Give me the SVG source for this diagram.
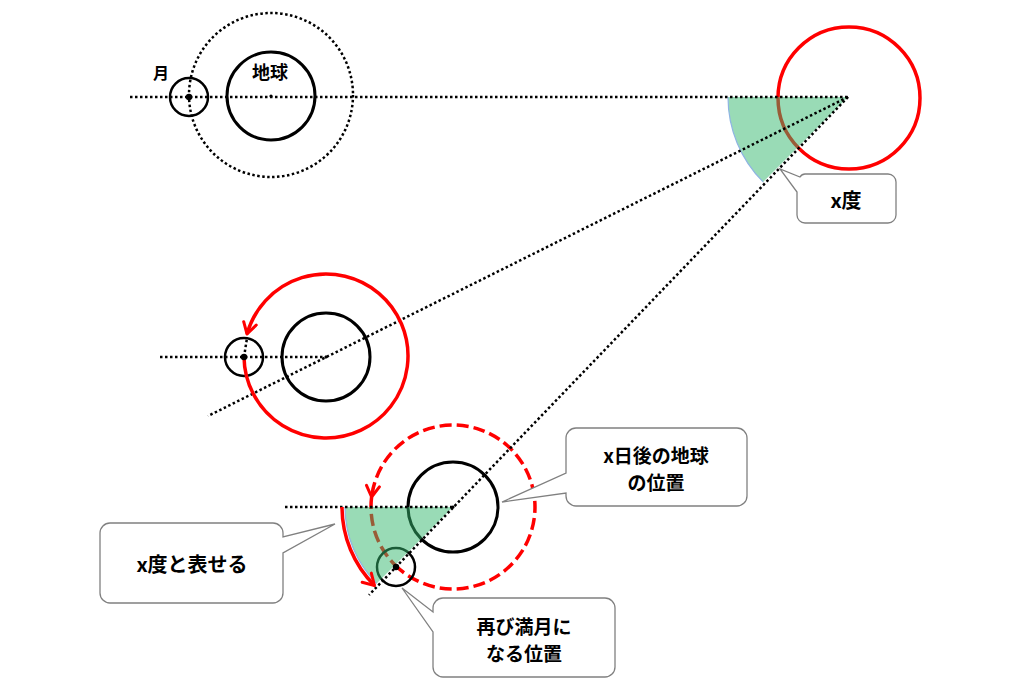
<svg xmlns="http://www.w3.org/2000/svg" width="1024" height="691" viewBox="0 0 1024 691">
<style>
.dot{fill:none;stroke:#000;stroke-width:2.5;stroke-dasharray:2.5 2.5}
.blk{fill:none;stroke:#000;stroke-width:3}
.moon{fill:none;stroke:#000;stroke-width:2.5}
.red{fill:none;stroke:#ff0000;stroke-width:3.5}
.dash{fill:none;stroke:#ff0000;stroke-width:3.5;stroke-dasharray:12 5}
.sector{fill:#33b86e;fill-opacity:0.5;stroke:none}
.rim{fill:none;stroke:#8eb4e3;stroke-width:1.2}
.box{fill:#fff;stroke:#808080;stroke-width:1.3}
.t{font-family:"Noto Sans CJK JP","Noto Sans",sans-serif;font-weight:bold;fill:#000;text-anchor:middle;dominant-baseline:central}
</style>
<defs>
<marker id="arr" viewBox="0 0 16 16" refX="13" refY="8" markerWidth="16" markerHeight="16" markerUnits="userSpaceOnUse" orient="auto">
<path d="M2 1.5 L13 8 L2 14.5" fill="none" stroke="#ff0000" stroke-width="3" stroke-linecap="round" stroke-linejoin="round"/>
</marker>
</defs>
<rect width="1024" height="691" fill="#fff"/>

<g id="sun-circle"><circle class="red" cx="849" cy="98" r="71"/></g>

<g id="orbit-x-days">
<path class="dash" d="M395 565 A82 82 0 1 0 371.6 497" marker-end="url(#arr)"/>
<path class="dash" d="M371.6 497 A82 82 0 0 0 395 565"/>
</g>

<g id="earth-1"><circle class="dot" cx="271" cy="95" r="82"/><circle class="blk" cx="271" cy="96" r="44"/><circle cx="271" cy="96" r="1.6"/><text class="t" x="270" y="71" font-size="18">地球</text></g>
<g id="moon-1"><circle class="moon" cx="189" cy="97" r="19"/><circle cx="189" cy="97" r="3.2"/><text class="t" x="161" y="72" font-size="16">月</text></g>

<g id="earth-2"><circle class="blk" cx="326" cy="357" r="44"/><circle cx="326" cy="357" r="1.6"/></g>
<g id="moon-2"><circle class="moon" cx="244" cy="357" r="19"/></g>

<g id="earth-3"><circle class="blk" cx="453" cy="507" r="45"/></g>
<g id="moon-3"><circle class="moon" cx="396" cy="567" r="19"/></g>

<g id="connectors">
<path class="sector" d="M848 97 L728 97 A120 120 0 0 0 763.1 181.9 Z"/>
<path class="rim" d="M728 97 A120 120 0 0 0 763.1 181.9"/>
<path class="sector" d="M453 507 L345 507 A108 108 0 0 0 376.6 583.4 Z"/>
<path class="rim" d="M345 507 A108 108 0 0 0 376.6 583.4"/>
<line class="dot" x1="130" y1="97" x2="848" y2="97"/>
<line class="dot" x1="848" y1="97" x2="208" y2="416"/>
<line class="dot" x1="848" y1="97" x2="369" y2="595"/>
<line class="dot" x1="160" y1="357" x2="326" y2="357"/>
<line class="dot" x1="244" y1="357" x2="247" y2="338"/>
<line class="dot" x1="285" y1="507" x2="453" y2="507"/>
<path class="red" d="M244 357 A82 82 0 1 0 247 334" marker-end="url(#arr)"/>
<path class="red" d="M342 507 A111 111 0 0 0 374.5 585.5" marker-end="url(#arr)"/>
<circle cx="244" cy="357" r="3.2"/>
<circle cx="396" cy="567" r="3.2"/>
<circle cx="453" cy="507" r="1.6"/>
</g>

<g id="callout-xdo">
<path class="box" d="M805 174 H888 A8 8 0 0 1 896 182 V215 A8 8 0 0 1 888 223 H805 A8 8 0 0 1 797 215 V192 L780 169 L800 177 Q802 174 805 174 Z"/>
<text class="t" x="846" y="199" font-size="20">x度</text>
</g>
<g id="callout-earth">
<path class="box" d="M576 428 H737 A10 10 0 0 1 747 438 V496 A10 10 0 0 1 737 506 H576 A10 10 0 0 1 566 496 V493 L502 502 L566 473 V438 A10 10 0 0 1 576 428 Z"/>
<text class="t" x="656" y="454" font-size="19">x日後の地球</text>
<text class="t" x="656" y="481" font-size="19">の位置</text>
</g>
<g id="callout-fullmoon">
<path class="box" d="M443 598 H605 A10 10 0 0 1 615 608 V667 A10 10 0 0 1 605 677 H443 A10 10 0 0 1 433 667 V632 L402 588 L433 612 V608 A10 10 0 0 1 443 598 Z"/>
<text class="t" x="524" y="625" font-size="19">再び満月に</text>
<text class="t" x="524" y="652" font-size="19">なる位置</text>
</g>
<g id="callout-angle">
<path class="box" d="M110 523 H273 A10 10 0 0 1 283 533 V537 L335 524 L283 553 V593 A10 10 0 0 1 273 603 H110 A10 10 0 0 1 100 593 V533 A10 10 0 0 1 110 523 Z"/>
<text class="t" x="192" y="563" font-size="20">x度と表せる</text>
</g>
</svg>
